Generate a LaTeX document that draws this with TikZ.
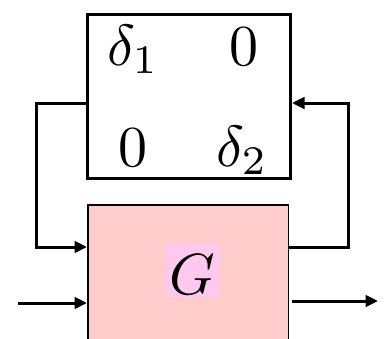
\documentclass[tikz,border=0pt]{standalone}
\usetikzlibrary{arrows.meta}
\definecolor{plantpink}{RGB}{255,204,204}
\definecolor{labelpink}{RGB}{255,200,238}
\newcommand{\entrymath}[1]{\scalebox{5.8}{$#1$}}
\tikzset{
  deltabox/.style={draw, line width=3pt, minimum width=203pt, minimum height=164pt, inner sep=0pt},
  plantbox/.style={draw, line width=1.5pt, fill=plantpink, minimum width=200.5pt, minimum height=160pt, inner sep=0pt},
  sig/.style={line width=3pt, -{Triangle[length=12.5pt,width=11.5pt]}},
  entry/.style={anchor=base, inner sep=0pt}
}
\begin{document}
\begin{tikzpicture}[x=1pt,y=-1pt]
  \clip (0,0) rectangle (385,338);
  \node[deltabox] (delta) at (189,96.5) {};
  \node[plantbox] (G) at (188,284.75) {};
  % entries of the uncertainty block
  \node[entry] (d11) at (133,65) {\entrymath{\delta_1}};
  \node[entry] (d12) at (244,65) {\entrymath{0}};
  \node[entry] (d21) at (133,166) {\entrymath{0}};
  \node[entry] (d22) at (242,166) {\entrymath{\delta_2}};
  \node[entry, fill=labelpink, inner xsep=4pt, inner ysep=0pt, text height=50pt, text depth=3pt] (glabel) at (192.5,294) {\entrymath{G}};
  % feedback loops
  \coordinate (lt) at (36,103);
  \coordinate (lb) at (36,247);
  \coordinate (rt) at (348,103);
  \coordinate (rb) at (348,247);
  \draw[sig] (delta.west |- lt) -- (lt) -- (lb) -- (G.west |- lb);
  \draw[sig] (G.east |- rb) -- (rb) -- (rt) -- (delta.east |- rt);
  % external input and output
  \coordinate (in) at (18,303);
  \coordinate (out) at (378,301);
  \draw[sig] (in) -- (G.west |- in);
  \draw[sig] (G.east |- out) ++(3,0) -- (out);
\end{tikzpicture}
\end{document}
